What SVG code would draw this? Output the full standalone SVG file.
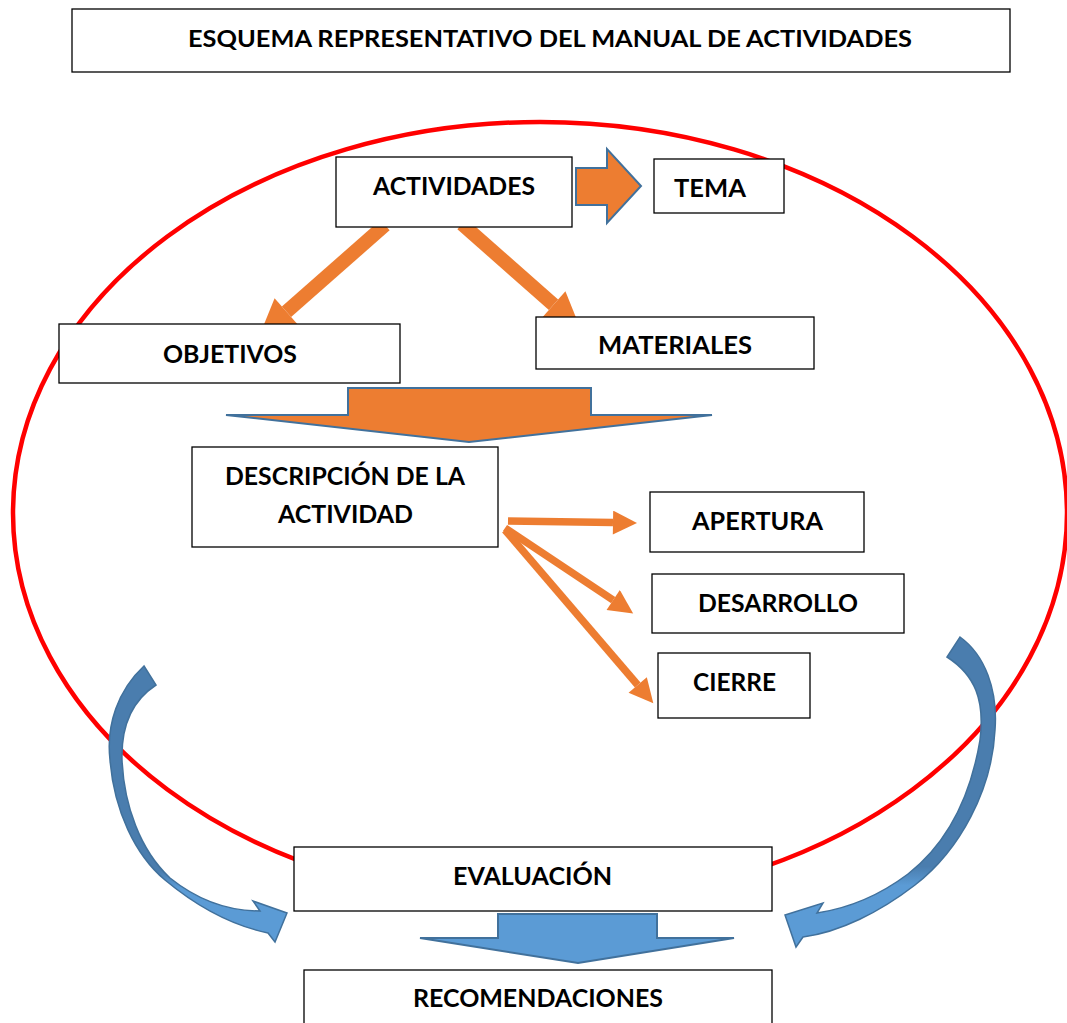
<svg xmlns="http://www.w3.org/2000/svg" width="1067" height="1023" viewBox="0 0 1067 1023">
<style>
.box{fill:#fff;stroke:#000;stroke-width:1.3}
.t{font-family:Lato,"Liberation Sans",sans-serif;font-weight:bold;font-size:24px;fill:#000}
.tt{font-size:22px}
.oa{stroke:#ED7D31;fill:none}
.blk{stroke:#41719C;stroke-width:2;stroke-linejoin:miter}
.crv{stroke:#41719C;stroke-width:1.5;stroke-linejoin:miter}
</style>
<defs>
<marker id="ahs" viewBox="0 0 10 10" refX="0" refY="5" markerWidth="25" markerHeight="24" markerUnits="userSpaceOnUse" orient="auto"><path d="M0,0 L10,5 L0,10 z" fill="#ED7D31"/></marker>
<marker id="ahb" viewBox="0 0 10 10" refX="0" refY="5" markerWidth="38" markerHeight="36" markerUnits="userSpaceOnUse" orient="auto"><path d="M0,0 L10,5 L0,10 z" fill="#ED7D31"/></marker>
<linearGradient id="gl" gradientUnits="userSpaceOnUse" x1="0" y1="660" x2="0" y2="945"><stop offset="0" stop-color="#4A7DAE"/><stop offset="0.74" stop-color="#4A7DAE"/><stop offset="0.8" stop-color="#5B9BD5"/><stop offset="1" stop-color="#5B9BD5"/></linearGradient>
<linearGradient id="gr" gradientUnits="userSpaceOnUse" x1="0" y1="635" x2="0" y2="948"><stop offset="0" stop-color="#4A7DAE"/><stop offset="0.74" stop-color="#4A7DAE"/><stop offset="0.8" stop-color="#5B9BD5"/><stop offset="1" stop-color="#5B9BD5"/></linearGradient>
</defs>
<rect width="1067" height="1023" fill="#fff"/>
<g id="title">
<rect class="box" x="72" y="9" width="938" height="63"/>
<text class="t tt" x="188" y="47" textLength="724" lengthAdjust="spacingAndGlyphs">ESQUEMA REPRESENTATIVO DEL MANUAL DE ACTIVIDADES</text>
</g>
<ellipse id="ciclo" cx="540" cy="513" rx="527" ry="391" fill="none" stroke="#FF0000" stroke-width="4.5"/>
<g id="connectors">
<polygon class="blk" fill="#ED7D31" points="576,168 607,168 607,149 641,186 607,223 607,205 576,205"/>
<line class="oa" x1="385" y1="225" x2="286.5" y2="311.8" stroke-width="14" marker-end="url(#ahb)"/>
<line class="oa" x1="462" y1="224" x2="553.5" y2="304.8" stroke-width="14" marker-end="url(#ahb)"/>
<polygon class="blk" fill="#ED7D31" points="348,388 591,388 591,415 712,415 469,442 226,415 348,415"/>
<line class="oa" x1="508" y1="521" x2="613" y2="522.6" stroke-width="7.5" marker-end="url(#ahs)"/>
<line class="oa" x1="505" y1="528" x2="613.2" y2="600.1" stroke-width="7.5" marker-end="url(#ahs)"/>
<line class="oa" x1="505" y1="530" x2="637.7" y2="685" stroke-width="7.5" marker-end="url(#ahs)"/>
<path class="crv" fill="url(#gl)" d="M144,666 C118,690 106,725 110,760 C114,810 135,855 165,880 C195,905 230,925 268,933 L275,942 L287,913 L253,901 L260,911 C225,911 195,898 170,878 C140,850 124,805 122,760 C121,725 133,700 156,685 Z"/>
<path class="crv" fill="url(#gr)" d="M960,637 C985,655 998,690 995,730 C992,790 960,850 915,885 C880,912 840,932 803,937 L796,947 L785,915 L823,903 L817,913 C850,908 880,895 908,874 C945,845 970,800 980,740 C985,700 975,675 947,657 Z"/>
<polygon class="blk" fill="#5B9BD5" points="498,914 657,914 657,938 734,938 578,963 420,938 498,938"/>
</g>
<g id="actividades">
<rect class="box" x="336" y="157" width="236" height="70"/>
<text class="t" x="373" y="195" textLength="162" lengthAdjust="spacingAndGlyphs">ACTIVIDADES</text>
</g>
<g id="tema">
<rect class="box" x="654" y="159" width="130" height="54"/>
<text class="t" x="674" y="197" textLength="72" lengthAdjust="spacingAndGlyphs">TEMA</text>
</g>
<g id="objetivos">
<rect class="box" x="59" y="324" width="341" height="59"/>
<text class="t" x="163" y="363" textLength="134" lengthAdjust="spacingAndGlyphs">OBJETIVOS</text>
</g>
<g id="materiales">
<rect class="box" x="536" y="317" width="278" height="52"/>
<text class="t" x="598" y="354" textLength="154" lengthAdjust="spacingAndGlyphs">MATERIALES</text>
</g>
<g id="descripcion">
<rect class="box" x="192" y="447" width="306" height="100"/>
<text class="t" x="225" y="485" textLength="240" lengthAdjust="spacingAndGlyphs">DESCRIPCIÓN DE LA</text>
<text class="t" x="278" y="523" textLength="135" lengthAdjust="spacingAndGlyphs">ACTIVIDAD</text>
</g>
<g id="apertura">
<rect class="box" x="650" y="492" width="214" height="60"/>
<text class="t" x="692" y="530" textLength="131" lengthAdjust="spacingAndGlyphs">APERTURA</text>
</g>
<g id="desarrollo">
<rect class="box" x="652" y="574" width="252" height="59"/>
<text class="t" x="698" y="612" textLength="160" lengthAdjust="spacingAndGlyphs">DESARROLLO</text>
</g>
<g id="cierre">
<rect class="box" x="658" y="653" width="152" height="65"/>
<text class="t" x="693" y="691" textLength="83" lengthAdjust="spacingAndGlyphs">CIERRE</text>
</g>
<g id="evaluacion">
<rect class="box" x="294" y="847" width="478" height="64"/>
<text class="t" x="453" y="885" textLength="159" lengthAdjust="spacingAndGlyphs">EVALUACIÓN</text>
</g>
<g id="recomendaciones">
<rect class="box" x="304" y="970" width="468" height="70"/>
<text class="t" x="413" y="1007" textLength="250" lengthAdjust="spacingAndGlyphs">RECOMENDACIONES</text>
</g>
</svg>
